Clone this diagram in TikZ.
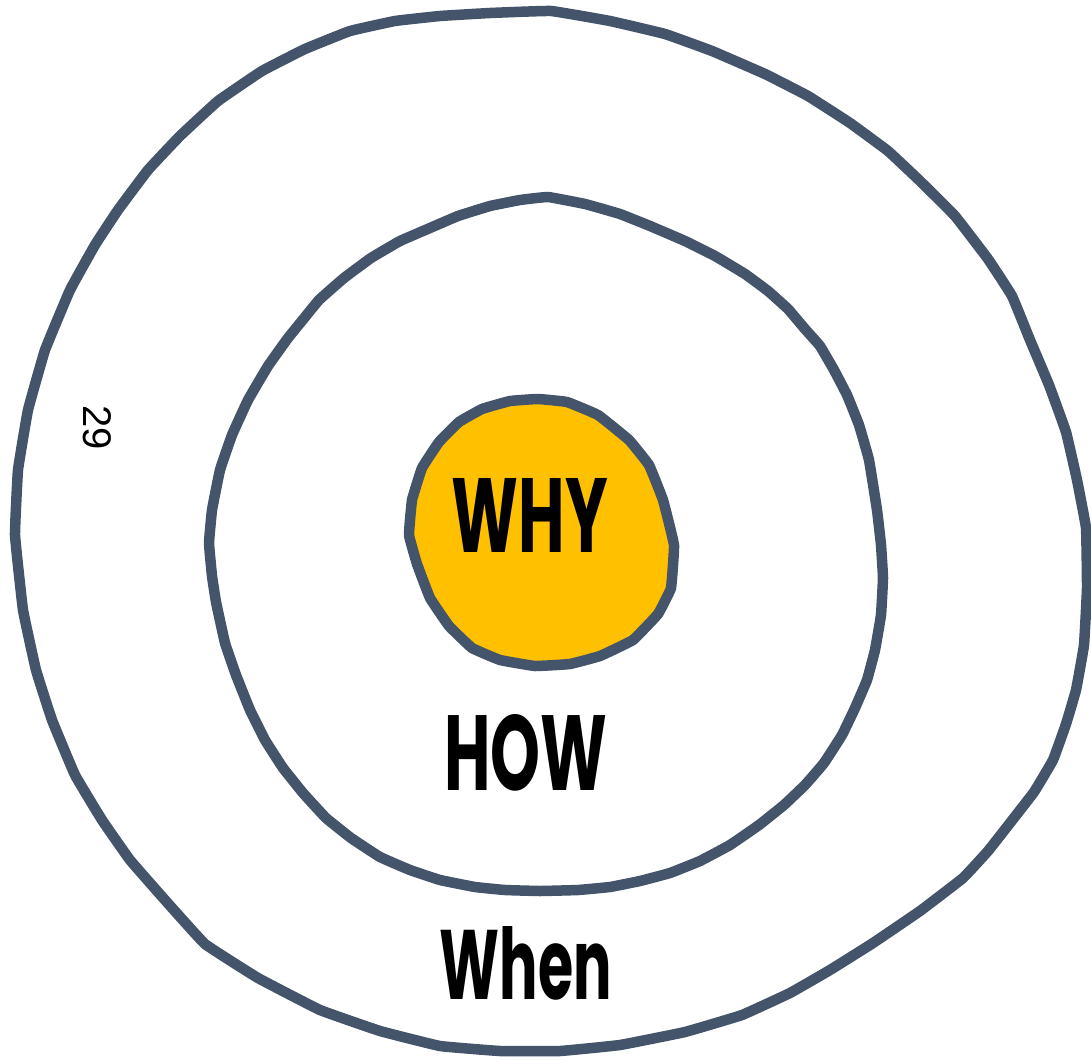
\documentclass[tikz,border=0pt]{standalone}
\usepackage{fontspec}
\usepackage{graphicx}
\newfontfamily\handfont{Poppins}
\newfontfamily\numfont{Liberation Sans}
\definecolor{ringc}{HTML}{44546A}
\definecolor{gold}{HTML}{FFC000}
\tikzset{
  ring/.style={draw=ringc, line width=10.5pt, line join=round},
  word/.style={inner sep=0pt, text=black},
}
\begin{document}
\begin{tikzpicture}[x=1pt,y=-1pt]
\useasboundingbox (0,0) rectangle (1091,1059);
% outer ring
\draw[ring] plot[smooth cycle, tension=0.15] coordinates {(551,11) (610,21) (665,34) (712,51) (765,74) (808,96) (850,123) (888,151) (920,181) (955,216) (988,259) (1012,296) (1030,340) (1049,385) (1066,432) (1077,480) (1086,528) (1087,588) (1084,645) (1076,690) (1066,724) (1053,760) (1034,792) (1010,823) (988,851) (963,878) (920,911) (873,943) (830,970) (790,993) (742,1015) (685,1032) (620,1045) (560,1051) (500,1051) (440,1046) (380,1031) (320,1010) (258,978) (205,944) (165,900) (130,860) (102,820) (75,775) (52,720) (36,670) (23,610) (15,535) (18,470) (28,410) (45,350) (70,290) (95,245) (118,210) (148,170) (180,136) (218,101) (262,71) (305,49) (350,31) (395,21) (440,16) (490,13)};
% middle ring
\draw[ring] plot[smooth cycle, tension=0.15] coordinates {(548,197) (585,204) (620,214) (650,226) (685,241) (715,256) (745,274) (768,291) (788,309) (805,329) (820,346) (834,370) (847,395) (859,425) (869,460) (877,510) (881,545) (883,578) (881,615) (875,650) (867,680) (855,708) (842,735) (824,763) (805,785) (784,805) (759,825) (730,845) (700,861) (670,873) (640,881) (610,887) (578,890) (540,891) (505,890) (475,887) (440,880) (410,870) (380,857) (351,838) (326,818) (303,793) (283,768) (265,740) (250,710) (236,675) (225,643) (216,602) (212,576) (209,543) (212,510) (220,470) (232,435) (248,400) (268,366) (288,338) (301,322) (319,300) (344,278) (371,258) (400,241) (430,228) (458,216) (490,206) (520,200)};
% inner disc
\draw[ring, fill=gold] plot[smooth cycle, tension=0.15] coordinates {(538,399) (567,402) (598,415) (629,440) (649,465) (663,500) (674,545) (671,588) (658,614) (633,640) (600,656) (570,664) (535,666) (500,660) (472,648) (449,626) (430,598) (417,564) (409,535) (412,500) (422,468) (439,442) (459,422) (482,409) (510,401)};
% labels
\node[word] (why) at (530,515) {\resizebox{156pt}{74pt}{\handfont\bfseries WHY}};
\node[word] (how) at (526,753) {\resizebox{163pt}{76pt}{\handfont\bfseries HOW}};
\node[word] (when) at (526,963) {\resizebox{172pt}{73pt}{\handfont\bfseries When}};
\node[word, rotate=-90, font=\numfont\fontsize{40}{40}\selectfont] (num) at (97,428) {29};
\end{tikzpicture}
\end{document}
